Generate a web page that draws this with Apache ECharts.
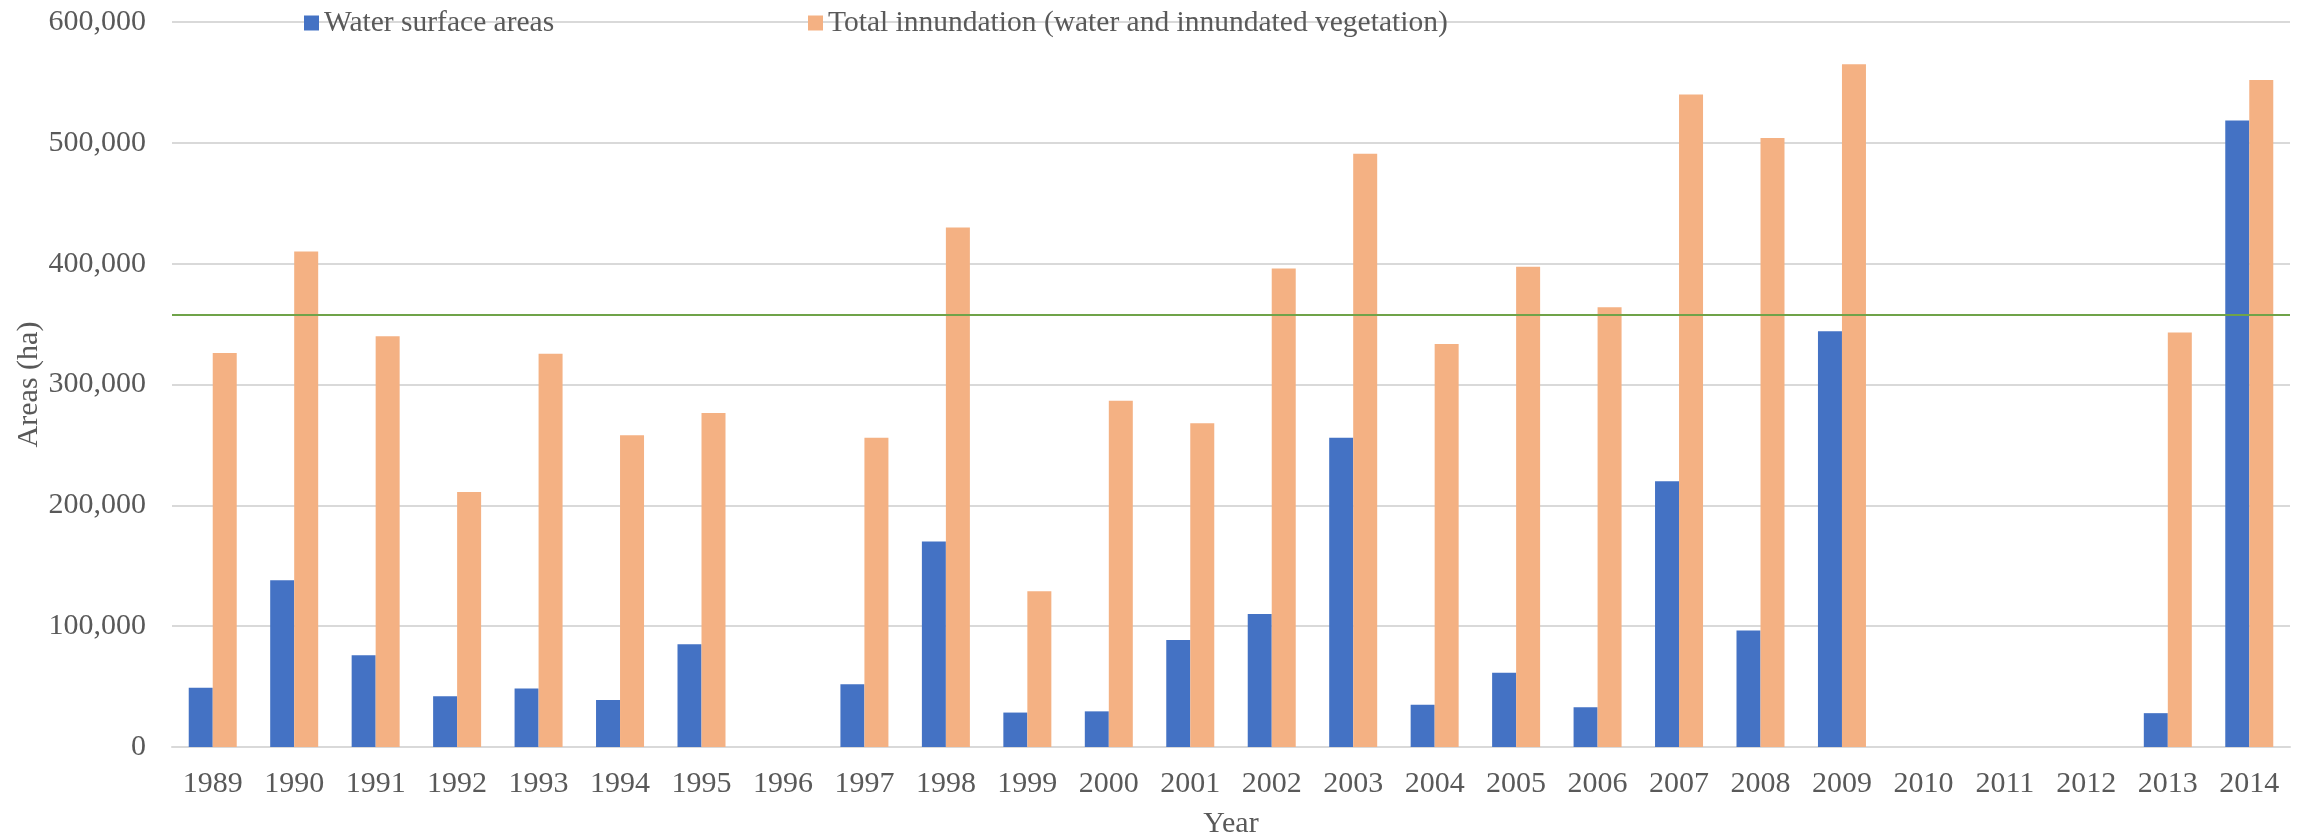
<!DOCTYPE html>
<html>
<head>
<meta charset="utf-8">
<script src="https://cdn.jsdelivr.net/npm/echarts@6/dist/echarts.min.js"></script>
<style>
	html, body { margin: 0; padding: 0; background: #fff; }
	#chart { width: 2310px; height: 838px; }
</style>
</head>
<body>
<div id="chart"></div>
<script>
	// years on the x axis
	var years = ['1989', '1990', '1991', '1992', '1993', '1994', '1995', '1996', '1997', '1998', '1999', '2000', '2001',
		'2002', '2003', '2004', '2005', '2006', '2007', '2008', '2009', '2010', '2011', '2012', '2013', '2014']

	// water surface areas (ha)
	var waterSurface = [49000, 138000, 76000, 42000, 48500, 39000, 85000, null, 52000, 170000, 28500, 29500, 88500,
		110000, 256000, 35000, 61500, 33000, 220000, 96500, 344000, null, null, null, 28000, 518500]

	// total innundation (ha)
	var totalInnundation = [326000, 410000, 340000, 211000, 325500, 258000, 276500, null, 256000, 430000, 129000, 286500, 268000,
		396000, 491000, 333500, 397500, 364000, 540000, 504000, 565000, null, null, null, 343000, 552000]

	var yTicks = [0, 600000, 100000] // min, max, interval
	var thresholdLine = 358000

	var font = 'Liberation Serif, Times New Roman, serif'
	var textColor = '#595959'
	var fontSize = 30

	var chart = echarts.init(document.getElementById('chart'), null, { renderer: 'canvas' })

	var legendText = { fontFamily: font, fontSize: 29.5, color: textColor }

	chart.setOption({
		animation: false,
		color: ['#4472C4', '#F4B183'],
		grid: { left: 172, right: 20, top: 22, bottom: 91, containLabel: false, outerBoundsMode: 'none' },
		legend: [{
			data: ['Water surface areas'],
			left: 304, top: 8, padding: 0,
			icon: 'rect', itemWidth: 15, itemHeight: 15,
			textStyle: legendText
		}, {
			data: ['Total innundation (water and innundated vegetation)'],
			left: 808, top: 8, padding: 0,
			icon: 'rect', itemWidth: 15, itemHeight: 15,
			textStyle: legendText
		}],
		xAxis: {
			type: 'category',
			data: years,
			name: 'Year',
			nameLocation: 'middle',
			nameGap: 62,
			nameMoveOverlap: false,
			nameTextStyle: { fontFamily: font, fontSize: fontSize, color: textColor },
			axisTick: { show: false },
			axisLine: { lineStyle: { color: '#D9D9D9', width: 2 } },
			axisLabel: { fontFamily: font, fontSize: fontSize, color: textColor, margin: 22, interval: 0 }
		},
		yAxis: {
			type: 'value',
			min: yTicks[0],
			max: yTicks[1],
			interval: yTicks[2],
			name: 'Areas (ha)',
			nameLocation: 'middle',
			nameGap: 128,
			nameMoveOverlap: false,
			nameTextStyle: { fontFamily: font, fontSize: fontSize, color: textColor },
			axisLine: { show: false },
			axisTick: { show: false },
			axisLabel: {
				fontFamily: font, fontSize: fontSize, color: textColor, margin: 26,
				formatter: function (v) { return v.toLocaleString('en-US') }
			},
			splitLine: { lineStyle: { color: '#D9D9D9', width: 2 } }
		},
		series: [{
			name: 'Water surface areas',
			type: 'bar',
			barWidth: 24,
			barGap: '0%',
			data: waterSurface,
			markLine: {
				silent: true,
				symbol: 'none',
				label: { show: false },
				lineStyle: { color: '#6FA349', width: 2, type: 'solid' },
				data: [{ yAxis: thresholdLine }]
			}
		}, {
			name: 'Total innundation (water and innundated vegetation)',
			type: 'bar',
			barWidth: 24,
			barGap: '0%',
			data: totalInnundation
		}]
	})

	window.addEventListener('resize', function () {
		chart.resize()
	})
</script>
</body>
</html>
